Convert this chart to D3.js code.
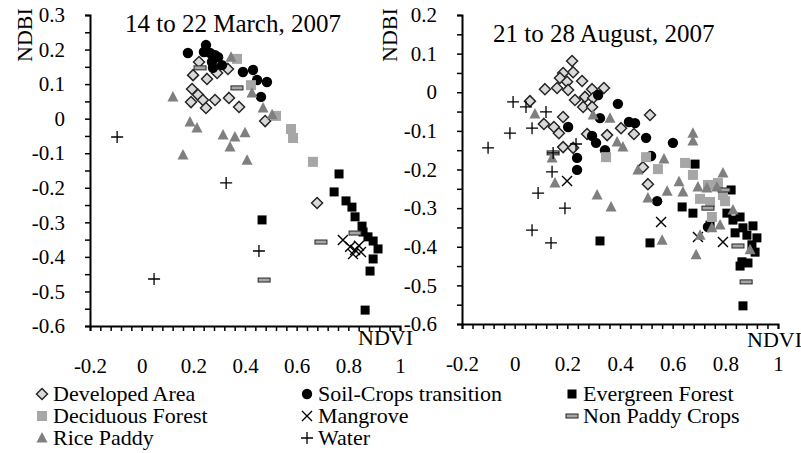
<!DOCTYPE html>
<html>
<head>
<meta charset="utf-8">
<script src="https://cdn.jsdelivr.net/npm/d3@7"></script>
<style>
  body { margin: 0; background: #fff; }
  svg text { font-family: "Liberation Serif", "Times New Roman", Times, "DejaVu Serif", "Noto Serif", serif; fill: #000; }
</style>
</head>
<body>
<svg id="chart" width="801" height="453"></svg>
<script>
// series order as in the legend (row by row)
const seriesNames = ["Developed Area", "Soil-Crops transition", "Evergreen Forest",
  "Deciduous Forest", "Mangrove", "Non Paddy Crops", "Rice Paddy", "Water"];
const xTicks = [-0.2, 0, 0.2, 0.4, 0.6, 0.8, 1];
const yTicksMarch = [-0.6, -0.5, -0.4, -0.3, -0.2, -0.1, 0, 0.1, 0.2, 0.3];
const yTicksAugust = [-0.6, -0.5, -0.4, -0.3, -0.2, -0.1, 0, 0.1, 0.2];

// 14 to 22 March, 2007  [NDVI, NDBI]
const marchDeveloped = [[0.222,0.164],[0.199,0.126],[0.253,0.115],[0.334,0.144],[0.292,0.132],[0.195,0.086],
  [0.218,0.069],[0.191,0.048],[0.237,0.054],[0.249,0.031],[0.284,0.054],[0.338,0.060],[0.377,0.034],
  [0.478,-0.007],[0.679,-0.244]];
const marchSoil = [[0.179,0.190],[0.249,0.213],[0.241,0.193],[0.265,0.190],[0.284,0.184],[0.272,0.164],
  [0.296,0.178],[0.311,0.155],[0.276,0.147],[0.392,0.135],[0.431,0.141],[0.447,0.112],[0.485,0.106],[0.462,0.063]];
const marchEvergreen = [[0.764,-0.160],[0.745,-0.212],[0.791,-0.238],[0.814,-0.256],[0.826,-0.284],[0.853,-0.311],
  [0.857,-0.328],[0.876,-0.342],[0.896,-0.354],[0.915,-0.377],[0.896,-0.406],[0.884,-0.441],[0.865,-0.554],[0.466,-0.293]];
const marchDeciduous = [[0.369,0.173],[0.423,0.097],[0.520,0.008],[0.578,-0.030],[0.586,-0.056],[0.663,-0.125]];
const marchMangrove = [[0.779,-0.351],[0.807,-0.371],[0.826,-0.380],[0.841,-0.368],[0.818,-0.392],[0.849,-0.386]];
const marchNonPaddy = [[0.226,0.147],[0.369,0.089],[0.694,-0.357],[0.474,-0.467],[0.826,-0.331]];
const marchRice = [[0.121,0.063],[0.187,-0.010],[0.214,-0.027],[0.160,-0.105],[0.315,-0.047],[0.361,-0.053],
  [0.342,-0.082],[0.400,-0.041],[0.408,-0.120],[0.346,0.178],[0.427,0.074],[0.470,0.031],[0.505,0.011]];
const marchWater = [[-0.095,-0.053],[0.327,-0.186],[0.454,-0.383],[0.048,-0.464]];

// 21 to 28 August, 2007  [NDVI, NDBI]
const augustDeveloped = [[0.218,0.081],[0.222,0.052],[0.184,0.050],[0.172,0.037],[0.199,0.027],[0.256,0.029],
  [0.115,0.008],[0.161,0.011],[0.203,0.006],[0.294,0.008],[0.339,0.011],[0.267,-0.012],[0.298,-0.015],
  [0.229,-0.020],[0.260,-0.038],[0.294,-0.038],[0.058,-0.023],[0.184,-0.064],[0.111,-0.082],[0.149,-0.090],
  [0.168,-0.106],[0.275,-0.108],[0.351,-0.111],[0.404,-0.093],[0.453,-0.108],[0.514,-0.059],[0.184,-0.142],
  [0.222,-0.144],[0.487,-0.194],[0.506,-0.238]];
const augustSoil = [[0.317,-0.007],[0.392,-0.030],[0.324,-0.067],[0.203,-0.090],[0.294,-0.113],[0.309,-0.131],
  [0.343,-0.150],[0.237,-0.170],[0.237,-0.201],[0.434,-0.077],[0.457,-0.080],[0.499,-0.118],[0.601,-0.131],
  [0.518,-0.165],[0.541,-0.282],[0.734,-0.349]];
const augustEvergreen = [[0.324,-0.385],[0.514,-0.390],[0.636,-0.297],[0.677,-0.313],[0.685,-0.186],[0.822,-0.253],
  [0.742,-0.344],[0.806,-0.313],[0.829,-0.331],[0.856,-0.323],[0.837,-0.364],[0.867,-0.351],[0.905,-0.346],
  [0.882,-0.370],[0.920,-0.377],[0.901,-0.395],[0.913,-0.414],[0.863,-0.439],[0.886,-0.442],[0.856,-0.450],[0.867,-0.553]];
const augustDeciduous = [[0.347,-0.168],[0.499,-0.168],[0.544,-0.199],[0.647,-0.183],[0.677,-0.214],[0.734,-0.240],
  [0.772,-0.235],[0.791,-0.266],[0.704,-0.276],[0.742,-0.284],[0.749,-0.323],[0.799,-0.282]];
const augustMangrove = [[0.199,-0.230],[0.556,-0.336],[0.696,-0.375],[0.791,-0.388]];
const augustNonPaddy = [[0.795,-0.253],[0.848,-0.398],[0.879,-0.491],[0.734,-0.300],[0.146,-0.157]];
const augustRice = [[0.077,-0.056],[0.298,-0.059],[0.362,-0.067],[0.142,-0.170],[0.153,-0.235],[0.313,-0.266],
  [0.366,-0.297],[0.389,-0.129],[0.411,-0.142],[0.468,-0.201],[0.506,-0.274],[0.567,-0.173],[0.579,-0.256],
  [0.624,-0.232],[0.639,-0.258],[0.677,-0.106],[0.677,-0.126],[0.696,-0.245],[0.730,-0.248],[0.768,-0.245],
  [0.791,-0.209],[0.829,-0.305],[0.749,-0.351],[0.780,-0.344],[0.704,-0.370],[0.560,-0.383],[0.689,-0.421],[0.894,-0.408]];
const augustWater = [[-0.101,-0.144],[-0.018,-0.106],[-0.006,-0.025],[0.043,-0.038],[0.066,-0.093],[0.119,-0.051],
  [0.146,-0.157],[0.142,-0.206],[0.089,-0.261],[0.191,-0.300],[0.066,-0.357],[0.138,-0.390],[0.233,-0.134]];

const svg = d3.select("#chart");
const fmt = d => (Math.abs(d) < 1e-9 ? "0" : String(+d.toFixed(1)));
const serif = '"Liberation Serif", "Times New Roman", Times, "DejaVu Serif", serif';

// draws one marker of a series at (0,0) of group g
function marker(g, name) {
  if (name === "Developed Area") {
    g.append("path").attr("d", "M0,-5.5L5.5,0L0,5.5L-5.5,0Z")
      .attr("fill", "#d9d9d9").attr("stroke", "#262626").attr("stroke-width", 1.5);
  } else if (name === "Soil-Crops transition") {
    g.append("circle").attr("r", 5.2).attr("fill", "#000");
  } else if (name === "Evergreen Forest") {
    g.append("rect").attr("x", -4.5).attr("y", -4.5).attr("width", 9).attr("height", 9).attr("fill", "#000");
  } else if (name === "Deciduous Forest") {
    g.append("rect").attr("x", -5).attr("y", -5).attr("width", 10).attr("height", 10).attr("fill", "#a6a6a6");
  } else if (name === "Mangrove") {
    g.append("path").attr("d", "M-5,-5L5,5M-5,5L5,-5").attr("stroke", "#000").attr("stroke-width", 1.4);
  } else if (name === "Non Paddy Crops") {
    g.append("rect").attr("x", -6).attr("y", -2).attr("width", 12).attr("height", 4)
      .attr("fill", "#a6a6a6").attr("stroke", "#262626").attr("stroke-width", 1);
  } else if (name === "Rice Paddy") {
    g.append("path").attr("d", "M0,-6L5.5,4.5L-5.5,4.5Z").attr("fill", "#7f7f7f");
  } else if (name === "Water") {
    g.append("path").attr("d", "M-6,0L6,0M0,-6L0,6").attr("stroke", "#000").attr("stroke-width", 1.3);
  }
}

function drawPanel(p) {
  const x = d3.scaleLinear().domain([-0.2, 1]).range(p.xRange);
  const y = d3.scaleLinear().domain(p.yDomain).range(p.yRange);
  const axisY = p.yRange[0];
  const g = svg.append("g");

  // minor ticks
  g.append("g").attr("transform", "translate(0," + axisY + ")")
    .call(d3.axisBottom(x).tickValues(d3.range(0, 31).map(i => -0.2 + i * 0.04)).tickSize(5).tickFormat(""))
    .call(a => a.select(".domain").attr("stroke-width", 2))
    .call(a => a.selectAll(".tick line").attr("stroke-width", 1.5));
  g.append("g").attr("transform", "translate(" + p.xRange[0] + ",0)")
    .call(d3.axisLeft(y).tickValues(d3.range(0, Math.round((p.yDomain[1] - p.yDomain[0]) / 0.05) + 1)
      .map(i => p.yDomain[0] + i * 0.05)).tickSize(5).tickFormat(""))
    .call(a => a.select(".domain").attr("stroke-width", 2))
    .call(a => a.selectAll(".tick line").attr("stroke-width", 1.5));

  // labels
  g.append("g").attr("transform", "translate(0," + axisY + ")")
    .call(d3.axisBottom(x).tickValues(xTicks).tickSize(0).tickPadding(32).tickFormat(fmt))
    .attr("font-family", serif)
    .call(a => a.select(".domain").remove())
    .call(a => a.selectAll("text").attr("font-size", 21));
  g.append("g").attr("transform", "translate(" + p.xRange[0] + ",0)")
    .call(d3.axisLeft(y).tickValues(p.yTicks).tickSize(0).tickPadding(25).tickFormat(fmt))
    .attr("font-family", serif)
    .call(a => a.select(".domain").remove())
    .call(a => a.selectAll("text").attr("font-size", 21));

  g.append("text").attr("x", p.title[1]).attr("y", p.title[2]).attr("font-size", 25).text(p.title[0]);
  g.append("text").attr("transform", "translate(" + p.ndbi[0] + "," + p.ndbi[1] + ") rotate(-90)")
    .attr("font-size", 22).text("NDBI");
  g.append("text").attr("x", p.ndvi[0]).attr("y", p.ndvi[1]).attr("font-size", 22).text("NDVI");

  p.series.forEach((data, i) => {
    g.append("g").selectAll("g").data(data).join("g")
      .attr("transform", d => "translate(" + x(d[0]) + "," + y(d[1]) + ")")
      .each(function () { marker(d3.select(this), seriesNames[i]); });
  });
}

drawPanel({
  xRange: [90, 400], yRange: [326, 15], yDomain: [-0.6, 0.3], yTicks: yTicksMarch,
  title: ["14 to 22 March, 2007", 125, 32], ndbi: [32, 62], ndvi: [358, 345],
  series: [marchDeveloped, marchSoil, marchEvergreen, marchDeciduous, marchMangrove, marchNonPaddy, marchRice, marchWater]
});
drawPanel({
  xRange: [462, 778], yRange: [324, 15], yDomain: [-0.6, 0.2], yTicks: yTicksAugust,
  title: ["21 to 28 August, 2007", 493, 42], ndbi: [397, 62], ndvi: [747, 347],
  series: [augustDeveloped, augustSoil, augustEvergreen, augustDeciduous, augustMangrove, augustNonPaddy, augustRice, augustWater]
});

// legend, 3 columns row by row
const legCols = [42, 307, 572];
const legRows = [401, 423, 445];
const leg = svg.append("g");
seriesNames.forEach((name, i) => {
  const cx = legCols[i % 3], by = legRows[Math.floor(i / 3)];
  marker(leg.append("g").attr("transform", "translate(" + cx + "," + (by - 7) + ")"), name);
  leg.append("text").attr("x", cx + 11).attr("y", by).attr("font-size", 22).text(name);
});
</script>
</body>
</html>
